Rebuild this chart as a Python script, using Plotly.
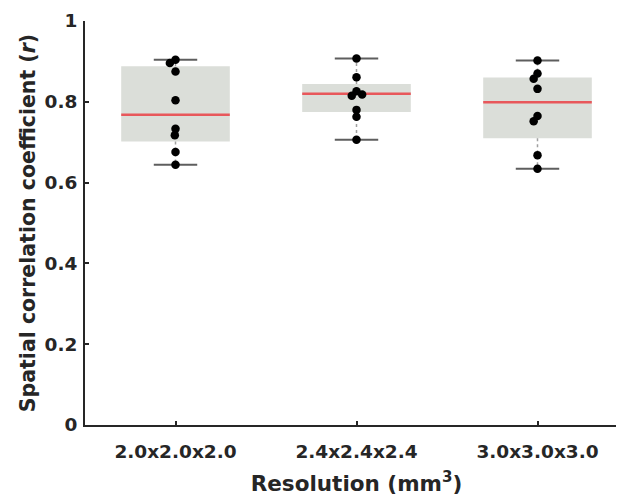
import math
import plotly.graph_objects as go

# ---- data ----
categories = ["2.0x2.0x2.0", "2.4x2.4x2.4", "3.0x3.0x3.0"]

r_res_2_0 = [0.904, 0.896, 0.875, 0.804, 0.733, 0.717, 0.676, 0.644]
r_res_2_4 = [0.907, 0.861, 0.826, 0.815, 0.818, 0.780, 0.763, 0.706]
r_res_3_0 = [0.902, 0.870, 0.857, 0.832, 0.765, 0.752, 0.668, 0.634]

box_q1 = [0.702, 0.775, 0.710]
box_median = [0.768, 0.820, 0.799]
box_q3 = [0.888, 0.844, 0.860]
whisker_low = [0.644, 0.706, 0.634]
whisker_high = [0.904, 0.907, 0.902]

y_ticks = [0, 0.2, 0.4, 0.6, 0.8, 1.0]
y_tick_labels = ["0", "0.2", "0.4", "0.6", "0.8", "1"]

groups = [r_res_2_0, r_res_2_4, r_res_3_0]
centers = [1, 2, 3]

# ---- styling ----
BOX_W = 0.6
CAP_HALF = 0.12
TXT = "#262626"
FONT = "DejaVu Sans"

# approximate pixel scale for the swarm layout
PX_PER_X = 181.0
PX_PER_Y = 404.0
DOT = 6.5


def swarm_offsets(vals):
    placed = []  # (x_px, y_px)
    out = []
    for v in vals:
        y = v * PX_PER_Y
        cands = [0.0]
        for (px, py) in placed:
            dy = abs(py - y)
            if dy < DOT:
                dx = math.sqrt(DOT * DOT - dy * dy)
                cands += [px + dx, px - dx]
        cands.sort(key=lambda c: (abs(c), c))
        chosen = cands[0]
        for c in cands:
            ok = True
            for (px, py) in placed:
                if (px - c) ** 2 + (py - y) ** 2 < DOT * DOT - 1e-6:
                    ok = False
                    break
            if ok:
                chosen = c
                break
        placed.append((chosen, y))
        out.append(chosen / PX_PER_X)
    return out


fig = go.Figure()

# boxes (q1..q3)
fig.add_trace(go.Bar(
    x=centers,
    base=box_q1,
    y=[q3 - q1 for q1, q3 in zip(box_q1, box_q3)],
    width=BOX_W,
    marker=dict(color="rgb(219,222,217)", line=dict(width=0)),
    hoverinfo="skip",
))

# dotted whiskers
wx, wy = [], []
for c, q1, q3, lo, hi in zip(centers, box_q1, box_q3, whisker_low, whisker_high):
    wx += [c, c, None, c, c, None]
    wy += [q3, hi, None, q1, lo, None]
fig.add_trace(go.Scatter(x=wx, y=wy, mode="lines",
                         line=dict(color="#a0a0a0", width=1.5, dash="dot"),
                         hoverinfo="skip"))

# whisker caps
cx, cy = [], []
for c, lo, hi in zip(centers, whisker_low, whisker_high):
    cx += [c - CAP_HALF, c + CAP_HALF, None, c - CAP_HALF, c + CAP_HALF, None]
    cy += [hi, hi, None, lo, lo, None]
fig.add_trace(go.Scatter(x=cx, y=cy, mode="lines",
                         line=dict(color="#5e5e5e", width=2),
                         hoverinfo="skip"))

# medians
mx, my = [], []
for c, m in zip(centers, box_median):
    mx += [c - BOX_W / 2, c + BOX_W / 2, None]
    my += [m, m, None]
fig.add_trace(go.Scatter(x=mx, y=my, mode="lines",
                         line=dict(color="#e8575b", width=2.5),
                         hoverinfo="skip"))

# individual points
px_all, py_all = [], []
for c, vals in zip(centers, groups):
    offs = swarm_offsets(vals)
    px_all += [c + o for o in offs]
    py_all += vals
fig.add_trace(go.Scatter(x=px_all, y=py_all, mode="markers",
                         marker=dict(color="black", size=8.5, line=dict(width=0))))

fig.update_layout(
    width=624, height=501,
    margin=dict(l=77, r=4, t=13, b=84),
    plot_bgcolor="white", paper_bgcolor="white",
    showlegend=False,
    font=dict(family=FONT, color=TXT),
)
fig.update_xaxes(
    range=[0.5, 3.5], automargin=False,
    tickmode="array", tickvals=centers, ticktext=categories,
    ticks="inside", ticklen=4, tickwidth=1.5, tickcolor=TXT,
    ticklabelstandoff=9,
    showline=True, linecolor=TXT, linewidth=2,
    showgrid=False, zeroline=False,
    tickfont=dict(family=FONT, size=18.5, color=TXT, weight="bold"),
    title=dict(text="Resolution (mm<sup>3</sup>)",
               font=dict(family=FONT, size=21.5, color=TXT, weight="bold"),
               standoff=15),
)
fig.update_yaxes(
    range=[0, 1], automargin=False,
    tickmode="array", tickvals=y_ticks, ticktext=y_tick_labels,
    ticks="inside", ticklen=4, tickwidth=1.5, tickcolor=TXT,
    ticklabelstandoff=2,
    showline=True, linecolor=TXT, linewidth=2,
    showgrid=False, zeroline=False,
    tickfont=dict(family=FONT, size=18.5, color=TXT, weight="bold"),
    title=dict(text="Spatial correlation coefficient (<i>r</i>)",
               font=dict(family=FONT, size=20.5, color=TXT, weight="bold"),
               standoff=3),
)

fig.write_html("out.html")
